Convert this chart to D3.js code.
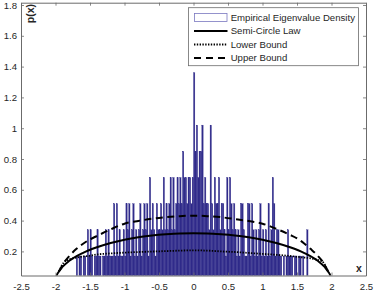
<!DOCTYPE html>
<html>
<head>
<meta charset="utf-8">
<script src="https://cdn.jsdelivr.net/npm/d3@7"></script>
<style>
  body { margin: 0; background: #fff; }
  svg { display: block; font-family: "Liberation Sans", Arial, sans-serif; }
</style>
</head>
<body>
<div id="chart"></div>
<script>
// histogram: bin start, bin width, counts per bin
var binStart = -1.70;
var binWidth = 0.02;
var binCounts = [
  1,0,1,1,0, 1,1,0,2,1, 2,1,0,1,1, 2,1,1,0,1,
  1,2,1,2,1, 1,1,3,1,3, 1,2,1,1,2, 1,3,2,3,1,
  2,3,1,2,1, 2,3,1,2,3, 2,3,1,4,2, 3,2,1,3,2,
  2,3,2,4,2, 3,2,3,4,2, 4,2,3,4,3, 4,3,5,4,4,
  3,4,4,3,4, 8,5,6,4,5, 5,6,3,4,3, 3,2,6,3,2,
  4,3,3,4,2, 3,3,2,1,4, 2,4,3,2,3, 2,1,2,1,3,
  3,2,1,1,3, 3,1,3,2,1, 2,1,2,3,1, 2,1,2,1,3,
  1,2,4,3,1, 2,2,1,1,0, 1,0,1,2,1, 1,1,0,1,1,
  0,1,1,0,1, 0,0,2,0
];
// density height of one count
var densityPerCount = 0.17;

// semi-circle law curve
var circleX = [-2, -1.99, -1.95, -1.9, -1.8, -1.6, -1.4, -1.2, -1, -0.8, -0.6, -0.4, -0.2, 0,
  0.2, 0.4, 0.6, 0.8, 1, 1.2, 1.4, 1.6, 1.8, 1.9, 1.95, 1.99, 2];
var circleY = [0, 0.032, 0.07, 0.099, 0.139, 0.191, 0.227, 0.255, 0.276, 0.292, 0.304, 0.312, 0.317, 0.318,
  0.317, 0.312, 0.304, 0.292, 0.276, 0.255, 0.227, 0.191, 0.139, 0.099, 0.07, 0.032, 0];

// bounds
var boundX = [-1.95, -1.88, -1.8, -1.7, -1.6, -1.5, -1.4, -1.2, -1, -0.8, -0.6, -0.4, -0.2, 0,
  0.2, 0.4, 0.6, 0.8, 1, 1.2, 1.4, 1.5, 1.6, 1.7, 1.8, 1.88, 1.95];
var upperY = [0.07, 0.125, 0.17, 0.215, 0.25, 0.278, 0.30, 0.343, 0.38, 0.398, 0.412, 0.422, 0.429, 0.432,
  0.429, 0.422, 0.41, 0.397, 0.38, 0.347, 0.307, 0.285, 0.253, 0.215, 0.172, 0.128, 0.07];
var lowerY = [0.07, 0.128, 0.148, 0.16, 0.167, 0.172, 0.18, 0.187, 0.192, 0.196, 0.199, 0.202, 0.205, 0.207,
  0.205, 0.2, 0.196, 0.19, 0.184, 0.178, 0.17, 0.165, 0.16, 0.155, 0.145, 0.128, 0.07];

var xTicks = [-2.5, -2, -1.5, -1, -0.5, 0, 0.5, 1, 1.5, 2, 2.5];
var xTickLabels = ["-2.5", "-2", "-1.5", "-1", "-0.5", "0", "0.5", "1", "1.5", "2", "2.5"];
var yTicks = [0.2, 0.4, 0.6, 0.8, 1, 1.2, 1.4, 1.6, 1.8];
var yTickLabels = ["0.2", "0.4", "0.6", "0.8", "1", "1.2", "1.4", "1.6", "1.8"];

var legendLabels = ["Empirical Eigenvalue Density", "Semi-Circle Law", "Lower Bound", "Upper Bound"];

var svgWidth = 374, svgHeight = 295;
var plotBox = { left: 21, right: 366, top: 2.7, bottom: 275.5 };
var barColor = "#302b8a";
var axisColor = "#6b6b6b";
var textColor = "#262626";

var svg = d3.select("#chart").append("svg")
  .attr("width", svgWidth)
  .attr("height", svgHeight);

var xScale = d3.scaleLinear().domain([-2.5, 2.5]).range([plotBox.left, plotBox.right]);
var yScale = d3.scaleLinear().domain([0.0435, 1.815]).range([plotBox.bottom, plotBox.top]);

svg.append("clipPath").attr("id", "plotClip")
  .append("rect")
  .attr("x", plotBox.left).attr("y", plotBox.top)
  .attr("width", plotBox.right - plotBox.left)
  .attr("height", plotBox.bottom - plotBox.top);

var plot = svg.append("g").attr("clip-path", "url(#plotClip)");

// histogram bars
var bins = binCounts.map(function(c, i) {
  return { x0: binStart + i * binWidth, x1: binStart + (i + 1) * binWidth, h: c * densityPerCount };
}).filter(function(d) { return d.h > 0; });

plot.selectAll("rect.bin")
  .data(bins)
  .enter()
  .append("rect")
  .attr("class", "bin")
  .attr("x", d => xScale(d.x0))
  .attr("width", d => xScale(d.x1) - xScale(d.x0))
  .attr("y", d => yScale(d.h))
  .attr("height", d => yScale(0) - yScale(d.h))
  .attr("fill", barColor)
  .attr("stroke", barColor)
  .attr("stroke-width", 0.3);

// curves
var line = d3.line()
  .x(d => xScale(d[0]))
  .y(d => yScale(d[1]))
  .curve(d3.curveMonotoneX);

function pairs(xs, ys) { return xs.map((v, i) => [v, ys[i]]); }

plot.append("path")
  .attr("d", line(pairs(circleX, circleY)))
  .attr("fill", "none").attr("stroke", "#000").attr("stroke-width", 2);

plot.append("path")
  .attr("d", line(pairs(boundX, lowerY)))
  .attr("fill", "none").attr("stroke", "#000").attr("stroke-width", 1.8)
  .attr("stroke-dasharray", "1.4,1.4");

plot.append("path")
  .attr("d", line(pairs(boundX, upperY)))
  .attr("fill", "none").attr("stroke", "#000").attr("stroke-width", 2)
  .attr("stroke-dasharray", "7,4.5");

// axes, ticks inside on all four sides
var bottomAxis = d3.axisBottom(xScale).tickValues(xTicks)
  .tickFormat((d, i) => xTickLabels[i]).tickSizeInner(-3).tickSizeOuter(0).tickPadding(7.3);
var topAxis = d3.axisTop(xScale).tickValues(xTicks)
  .tickFormat("").tickSizeInner(-3).tickSizeOuter(0);
var leftAxis = d3.axisLeft(yScale).tickValues(yTicks)
  .tickFormat((d, i) => yTickLabels[i]).tickSizeInner(-3).tickSizeOuter(0).tickPadding(4);
var rightAxis = d3.axisRight(yScale).tickValues(yTicks)
  .tickFormat("").tickSizeInner(-3).tickSizeOuter(0);

var gB = svg.append("g").attr("transform", `translate(0, ${plotBox.bottom})`).call(bottomAxis);
var gT = svg.append("g").attr("transform", `translate(0, ${plotBox.top})`).call(topAxis);
var gL = svg.append("g").attr("transform", `translate(${plotBox.left}, 0)`).call(leftAxis);
var gR = svg.append("g").attr("transform", `translate(${plotBox.right}, 0)`).call(rightAxis);

[gB, gT, gL, gR].forEach(function(g) {
  g.select(".domain").attr("stroke", axisColor).attr("stroke-width", 1);
  g.selectAll(".tick line").attr("stroke", axisColor).attr("stroke-width", 0.8);
  g.selectAll("text")
    .attr("fill", textColor)
    .style("font-family", '"Liberation Sans", Arial, sans-serif')
    .style("font-size", "9.6px");
});

// axis labels
svg.append("text")
  .attr("transform", "translate(34.3, 4) rotate(-90)")
  .attr("text-anchor", "end")
  .attr("font-weight", "bold")
  .attr("font-size", "10.5px")
  .attr("fill", textColor)
  .text("p(x)");

svg.append("text")
  .attr("x", 359)
  .attr("y", 271.5)
  .attr("text-anchor", "middle")
  .attr("font-weight", "bold")
  .attr("font-size", "10.5px")
  .attr("fill", textColor)
  .text("x");

// legend
var legend = svg.append("g");
legend.append("rect")
  .attr("x", 188.5).attr("y", 7.7)
  .attr("width", 170).attr("height", 58)
  .attr("fill", "#fff")
  .attr("stroke", axisColor)
  .attr("stroke-width", 0.8);

var rowY = [17.5, 31, 44.5, 58];

legend.append("rect")
  .attr("x", 194.5).attr("y", rowY[0] - 4)
  .attr("width", 32.5).attr("height", 8)
  .attr("fill", "#fff")
  .attr("stroke", "#7b78c0")
  .attr("stroke-width", 0.8);

var swatchStyles = [null, null, "1.4,1.4", "7,5"];
[1, 2, 3].forEach(function(i) {
  legend.append("line")
    .attr("x1", 194).attr("x2", 227.5)
    .attr("y1", rowY[i]).attr("y2", rowY[i])
    .attr("stroke", "#000")
    .attr("stroke-width", i === 2 ? 1.8 : 2)
    .attr("stroke-dasharray", swatchStyles[i]);
});

legend.selectAll("text.leg")
  .data(legendLabels)
  .enter()
  .append("text")
  .attr("class", "leg")
  .attr("x", 230.7)
  .attr("y", (d, i) => rowY[i] + 3.4)
  .attr("font-size", "9.6px")
  .attr("fill", textColor)
  .text(d => d);
</script>
</body>
</html>
